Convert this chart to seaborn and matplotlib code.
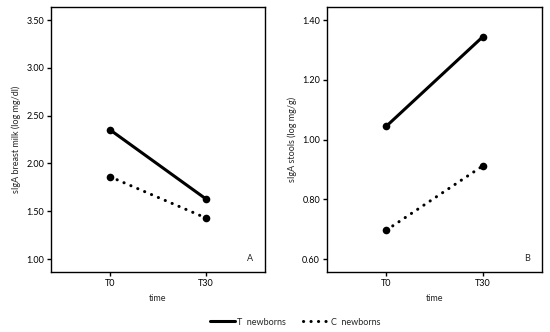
import pandas as pd
import seaborn as sns
import matplotlib.pyplot as plt
from matplotlib.lines import Line2D

times = ['T0', 'T30']
groups = ['T  newborns', 'C  newborns']
milk_t = [2.35, 1.63]
milk_c = [1.86, 1.43]
stool_t = [1.045, 1.343]
stool_c = [0.697, 0.911]

milk = pd.DataFrame({'time': times * 2,
                     'group': [groups[0]] * 2 + [groups[1]] * 2,
                     'value': milk_t + milk_c})
stool = pd.DataFrame({'time': times * 2,
                      'group': [groups[0]] * 2 + [groups[1]] * 2,
                      'value': stool_t + stool_c})

sns.set_style('ticks')
plt.rcParams['font.family'] = ['Lato', 'DejaVu Sans']
plt.rcParams['font.size'] = 6

fig = plt.figure(figsize=(5.5, 3.32), dpi=100)
ax1 = fig.add_axes([0.0927, 0.1807, 0.389, 0.7982])
ax2 = fig.add_axes([0.5945, 0.1807, 0.391, 0.7982])

styles = {groups[0]: (0, ()), groups[1]: (0, (0.05, 2.4))}

def draw(ax, df, yticks, fmt, ylim, ylabel, letter):
    for g in groups:
        sub = df[df['group'] == g]
        sns.lineplot(data=sub, x='time', y='value', ax=ax, color='black',
                     lw=2.2, marker='o', markersize=5.5, markeredgewidth=0,
                     linestyle=styles[g], dash_capstyle='round', legend=False)
    ax.set_xlim(-0.62, 1.62)
    ax.set_ylim(*ylim)
    ax.set_yticks(yticks)
    ax.set_yticklabels([fmt.format(v) for v in yticks])
    ax.set_xlabel('time', fontsize=6.5, labelpad=4)
    ax.set_ylabel(ylabel, fontsize=6.5, labelpad=4)
    ax.tick_params(length=3, width=1, pad=2, labelsize=6.5, colors='black')
    for s in ax.spines.values():
        s.set_linewidth(1.0)
        s.set_color('black')
        s.set_visible(True)
    ax.text(0.93, 0.05, letter, transform=ax.transAxes, fontsize=6.5,
            ha='center', va='center')

draw(ax1, milk, [1.0, 1.5, 2.0, 2.5, 3.0, 3.5], '{:.2f}', (0.864, 3.636),
     'sIgA breast milk (log mg/dl)', 'A')
draw(ax2, stool, [0.6, 0.8, 1.0, 1.2, 1.4], '{:.2f}', (0.5565, 1.4435),
     'sIgA stools (log mg/g)', 'B')

handles = [Line2D([], [], color='black', lw=2.2, linestyle=styles[g],
                  dash_capstyle='round') for g in groups]
fig.legend(handles, groups, loc='center', bbox_to_anchor=(0.536, 0.03),
           ncol=2, frameon=False, fontsize=6.5, handlelength=2.8,
           handletextpad=0.3, columnspacing=1.8)

fig.savefig('out.png', dpi=100)
